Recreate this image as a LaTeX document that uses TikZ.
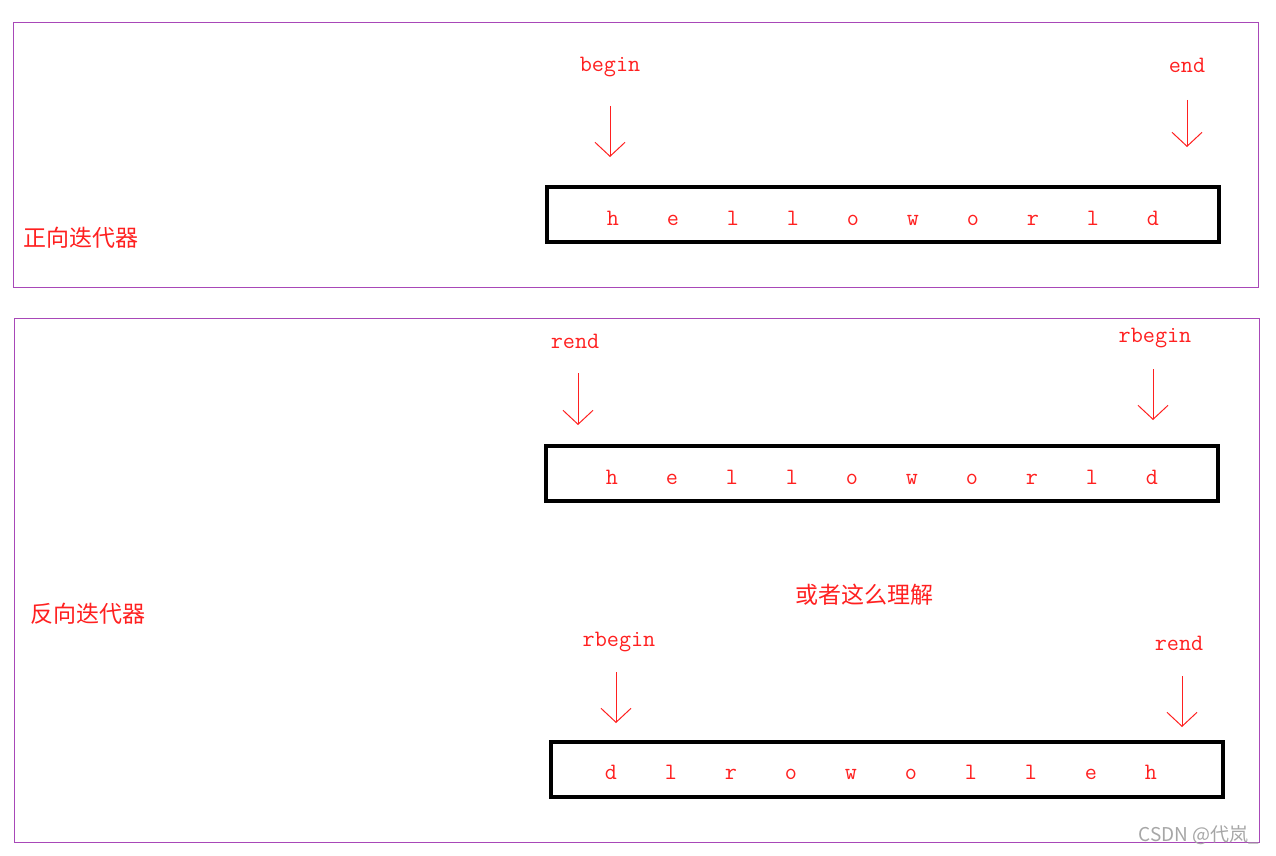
\documentclass[tikz,border=0pt]{standalone}
\usepackage{fontspec}
\newfontfamily\cjk{Noto Sans CJK SC}
\usetikzlibrary{arrows.meta}
\definecolor{frame}{HTML}{A848B8}
\definecolor{txt}{HTML}{FF2020}
\tikzset{
  frm/.style={draw=frame,line width=1pt},
  strbox/.style={draw=black,line width=4pt},
  ch/.style={text=txt,font=\ttfamily\fontsize{23.5}{23.5}\selectfont,inner sep=0pt,anchor=base},
  lbl/.style={text=txt,font=\ttfamily\fontsize{23.5}{23.5}\selectfont,inner sep=0pt,anchor=base},
  cn/.style={text=txt,font=\cjk\fontsize{23}{23}\selectfont,inner sep=0pt},
  ptr/.style={draw=txt,line width=1pt,-{Straight Barb[length=14pt,width=30pt,line width=1pt]}}
}
\begin{document}
\begin{tikzpicture}[x=1pt,y=-1pt]
\useasboundingbox (0,0) rectangle (1276,856);
% frames
\draw[frm] (13,23) rectangle (1258,287);
\draw[frm] (14,318) rectangle (1259,842);
% boxes
\draw[strbox] (547,187) rectangle (1219,242);
\draw[strbox] (546,446) rectangle (1218,501);
\draw[strbox] (551,742) rectangle (1223,797);
% letters
\foreach \c [count=\i from 0] in {h,e,l,l,o,w,o,r,l,d}{
  \node[ch] (a\i) at (613+60*\i,225) {\c};
  \node[ch] (b\i) at (612+60*\i,484) {\c};
}
\foreach \c [count=\i from 0] in {d,l,r,o,w,o,l,l,e,h}{
  \node[ch] (c\i) at (611+60*\i,779) {\c};
}
% labels
\node[cn,anchor=west] (fw) at (23,238) {正向迭代器};
\node[cn,anchor=west] (rv) at (30,614) {反向迭代器};
\node[cn] (alt) at (864,595) {或者这么理解};
\node[lbl] (begin) at (610,72) {begin};
\node[lbl] (end) at (1187,73) {end};
\node[lbl] (rend1) at (575,348) {rend};
\node[lbl] (rbegin1) at (1155,342) {rbegin};
\node[lbl] (rbegin2) at (619,646) {rbegin};
\node[lbl] (rend2) at (1179,650) {rend};
% arrows
\coordinate (p1s) at (610,106); \coordinate (p1e) at (610,157);
\coordinate (p2s) at (1187,100); \coordinate (p2e) at (1187,147);
\coordinate (p3s) at (578,373); \coordinate (p3e) at (578,425);
\coordinate (p4s) at (1153,369); \coordinate (p4e) at (1153,420);
\coordinate (p5s) at (616,672); \coordinate (p5e) at (616,723);
\coordinate (p6s) at (1182,676); \coordinate (p6e) at (1182,727);
\draw[ptr] (p1s) -- (p1e);
\draw[ptr] (p2s) -- (p2e);
\draw[ptr] (p3s) -- (p3e);
\draw[ptr] (p4s) -- (p4e);
\draw[ptr] (p5s) -- (p5e);
\draw[ptr] (p6s) -- (p6e);
% watermark
\node[text=gray!70,inner sep=0pt,font=\cjk\fontsize{19}{19}\selectfont] (wm) at (1199,835) {CSDN @代岚\_};
\end{tikzpicture}
\end{document}
